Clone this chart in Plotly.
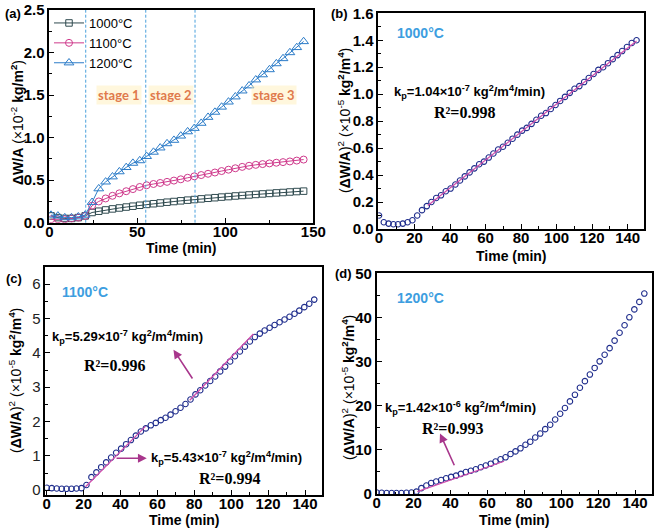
import plotly.graph_objects as go

W, H = 661, 532

# ---------------- data ----------------
# panel (a): mass gain per area (x10^-2 kg/m^2)
t_a = [1.0, 4.9, 8.8, 12.6, 16.5, 20.4, 24.3, 28.1, 32.0, 35.9, 39.8, 43.7, 47.5,
       51.4, 55.3, 59.2, 63.0, 66.9, 70.8, 74.7, 78.6, 82.4, 86.3, 90.2, 94.1,
       97.9, 101.8, 105.7, 109.6, 113.5, 117.3, 121.2, 125.1, 129.0, 132.8,
       136.7, 140.6, 144.5]
w_1000 = [0.08, 0.06, 0.05, 0.05, 0.06, 0.08, 0.12, 0.135, 0.15, 0.162, 0.173,
          0.184, 0.194, 0.205, 0.215, 0.223, 0.232, 0.241, 0.249, 0.257, 0.265,
          0.272, 0.28, 0.287, 0.294, 0.301, 0.307, 0.314, 0.32, 0.326, 0.332,
          0.338, 0.344, 0.35, 0.355, 0.361, 0.366, 0.371]
w_1100 = [0.04, 0.04, 0.04, 0.05, 0.06, 0.08, 0.20, 0.25, 0.285, 0.316, 0.345,
          0.37, 0.395, 0.42, 0.44, 0.455, 0.467, 0.48, 0.495, 0.51, 0.528,
          0.545, 0.56, 0.575, 0.59, 0.607, 0.623, 0.64, 0.656, 0.669, 0.68,
          0.689, 0.697, 0.705, 0.712, 0.72, 0.73, 0.742]
w_1200 = [0.09, 0.08, 0.06, 0.06, 0.07, 0.09, 0.24, 0.40, 0.48, 0.54, 0.60,
          0.65, 0.70, 0.73, 0.78, 0.83, 0.88, 0.93, 0.97, 1.02, 1.07, 1.11,
          1.17, 1.24, 1.30, 1.36, 1.42, 1.48, 1.55, 1.61, 1.68, 1.74, 1.80,
          1.87, 1.93, 2.00, 2.06, 2.13]
stage_bounds = [20.7, 54.8, 82.8]
stage_names = ["stage 1", "stage 2", "stage 3"]
stage_centers = [39.8, 69.0, 127.5]

# panels (b)-(d): squared mass gain (x10^-5 kg^2/m^4)
t_sq = [0, 2.7, 5.4, 8.1, 10.7, 13.4, 16.1, 18.8, 21.5, 24.2, 26.9, 29.5, 32.2,
        34.9, 37.6, 40.3, 43.0, 45.6, 48.3, 51.0, 53.7, 56.4, 59.1, 61.8, 64.4,
        67.1, 69.8, 72.5, 75.2, 77.9, 80.6, 83.2, 85.9, 88.6, 91.3, 94.0, 96.7,
        99.4, 102.0, 104.7, 107.4, 110.1, 112.8, 115.5, 118.1, 120.8, 123.5,
        126.2, 128.9, 131.6, 134.3, 136.9, 139.6, 142.3, 145.0]
sq_1000 = [0.10, 0.05, 0.04, 0.035, 0.035, 0.04, 0.05, 0.065, 0.10, 0.14, 0.17,
           0.20, 0.23, 0.25, 0.28, 0.30, 0.33, 0.36, 0.39, 0.42, 0.45, 0.48,
           0.50, 0.53, 0.56, 0.59, 0.61, 0.64, 0.67, 0.70, 0.73, 0.75, 0.78,
           0.81, 0.84, 0.86, 0.89, 0.92, 0.95, 0.98, 1.01, 1.04, 1.06, 1.09,
           1.12, 1.15, 1.18, 1.20, 1.23, 1.26, 1.29, 1.32, 1.35, 1.38, 1.40]
sq_1100 = [0.07, 0.06, 0.05, 0.04, 0.04, 0.04, 0.05, 0.06, 0.15, 0.38, 0.52,
           0.67, 0.81, 0.95, 1.09, 1.21, 1.34, 1.46, 1.59, 1.71, 1.80, 1.89,
           1.96, 2.04, 2.11, 2.20, 2.30, 2.40, 2.51, 2.64, 2.79, 2.91, 3.05,
           3.18, 3.31, 3.46, 3.60, 3.75, 3.90, 4.04, 4.18, 4.33, 4.46, 4.56,
           4.65, 4.73, 4.81, 4.89, 4.97, 5.05, 5.14, 5.23, 5.33, 5.43, 5.55]
sq_1200 = [0.2, 0.15, 0.1, 0.1, 0.1, 0.1, 0.15, 0.2, 0.4, 1.2, 1.8, 2.35, 2.7,
           3.05, 3.45, 3.75, 4.05, 4.45, 4.85, 5.15, 5.5, 5.95, 6.35, 6.75,
           7.25, 7.75, 8.2, 8.95, 9.55, 10.25, 11.05, 11.75, 12.7, 13.6, 14.6,
           15.6, 16.8, 18.1, 19.4, 20.9, 22.4, 24.0, 25.5, 27.0, 28.5, 30.0,
           31.5, 33.0, 34.7, 36.5, 38.2, 40.0, 41.8, 43.5, 45.4]

# linear-fit segments (start/end)
fit_b_x = [27.5, 145.0]
fit_b_y = [0.175, 1.395]
fit_c1_x = [21.0, 53.5]
fit_c1_y = [0.10, 1.86]
fit_c2_x = [77.5, 112.0]
fit_c2_y = [2.62, 4.55]
fit_d_x = [22.0, 69.0]
fit_d_y = [0.4, 7.3]

# tick labels
ticks_a_x = [0, 50, 100, 150]
ticks_a_y = [0.0, 0.5, 1.0, 1.5, 2.0, 2.5]
ticks_sq_x = [0, 20, 40, 60, 80, 100, 120, 140]
ticks_b_y = [0.0, 0.2, 0.4, 0.6, 0.8, 1.0, 1.2, 1.4, 1.6]
ticks_c_y = [0, 1, 2, 3, 4, 5, 6]
ticks_d_y = [0, 10, 20, 30, 40, 50]

# ---------------- styling ----------------
SANS = "Liberation Sans"
SERIF = "Liberation Serif"
NAVY = "#1f2d8c"
FITC = "#d04cab"
ARROWC = "#a8368c"
TEMPC = "#3d9ee0"
C1000, C1100, C1200 = "#2f4a4f", "#cf3a8c", "#2c7cc8"


def px(x, y):
    return x / W, 1 - y / H


fig = go.Figure()

# panel a
fig.add_trace(go.Scatter(x=t_a, y=w_1000, mode="lines+markers", name="1000°C",
                         line=dict(color=C1000, width=1),
                         marker=dict(symbol="square-open", size=6.5, color=C1000,
                                     line=dict(width=1)),
                         xaxis="x", yaxis="y"))
fig.add_trace(go.Scatter(x=t_a, y=w_1100, mode="lines+markers", name="1100°C",
                         line=dict(color=C1100, width=1),
                         marker=dict(symbol="circle-open", size=7, color=C1100,
                                     line=dict(width=1)),
                         xaxis="x", yaxis="y"))
fig.add_trace(go.Scatter(x=t_a, y=w_1200, mode="lines+markers", name="1200°C",
                         line=dict(color=C1200, width=1),
                         marker=dict(symbol="triangle-up-open", size=8.5, color=C1200,
                                     line=dict(width=1)),
                         xaxis="x", yaxis="y"))

# panels b, c, d
for ys, xa, ya in [(sq_1000, "x2", "y2"), (sq_1100, "x3", "y3"), (sq_1200, "x4", "y4")]:
    fig.add_trace(go.Scatter(x=t_sq, y=ys, mode="markers", showlegend=False,
                             marker=dict(symbol="circle-open", size=5.5, color=NAVY,
                                         line=dict(width=1.1)),
                             xaxis=xa, yaxis=ya))

for fx, fy, xa, ya in [(fit_b_x, fit_b_y, "x2", "y2"), (fit_c1_x, fit_c1_y, "x3", "y3"),
                       (fit_c2_x, fit_c2_y, "x3", "y3"), (fit_d_x, fit_d_y, "x4", "y4")]:
    fig.add_trace(go.Scatter(x=fx, y=fy, mode="lines", showlegend=False,
                             line=dict(color=FITC, width=1.2),
                             xaxis=xa, yaxis=ya))


def fmt_labels(vals, f, bold=True):
    out = []
    for v in vals:
        s = f.format(v)
        out.append("<b>" + s + "</b>" if bold else s)
    return out


def axis(dom, rng, tv, f, minor, bold=True, is_x=True):
    d = dict(domain=dom, range=rng, tickmode="array", tickvals=tv,
             ticktext=fmt_labels(tv, f, bold),
             ticks="inside", ticklen=5, tickwidth=1.3, tickcolor="black",
             minor=dict(dtick=minor, tick0=0, ticks="inside", ticklen=3,
                        tickwidth=1, tickcolor="black"),
             showline=True, linewidth=1.6, linecolor="black", mirror=True,
             showgrid=False, zeroline=False, automargin=False,
             tickfont=dict(family=SANS, size=15, color="black" if bold else "#222"))
    if is_x:
        d["ticklabelstandoff"] = -6
    return d


layout = dict(
    template="none",
    width=W, height=H, margin=dict(l=0, r=0, t=0, b=0, autoexpand=False),
    paper_bgcolor="white", plot_bgcolor="white", showlegend=True,
    xaxis=dict(**axis([49.3 / W, 313.3 / W], [0, 150], ticks_a_x, "{:d}", 25), anchor="y"),
    yaxis=dict(**axis([1 - 222.7 / H, 1 - 10 / H], [0, 2.5], ticks_a_y, "{:.1f}", 0.25, is_x=False), anchor="x"),
    xaxis2=dict(**axis([378.3 / W, 644 / W], [-0.4, 149.2], ticks_sq_x, "{:d}", 10), anchor="y2"),
    yaxis2=dict(**axis([1 - 229 / H, 1 - 13.3 / H], [0, 1.6], ticks_b_y, "{:.1f}", 0.1, is_x=False), anchor="x2"),
    xaxis3=dict(**axis([45.3 / W, 322 / W], [-0.8, 149.2], ticks_sq_x, "{:d}", 10), anchor="y3"),
    yaxis3=dict(**axis([1 - 495 / H, 1 - 267 / H], [-0.14, 6.5], ticks_c_y, "{:d}", 0.5, bold=False, is_x=False), anchor="x3"),
    xaxis4=dict(**axis([376.7 / W, 651.7 / W], [0, 149], ticks_sq_x, "{:d}", 10), anchor="y4"),
    yaxis4=dict(**axis([1 - 494.3 / H, 1 - 273.3 / H], [-0.2, 50], ticks_d_y, "{:d}", 5, is_x=False), anchor="x4"),
    legend=dict(x=49 / W, y=1 - 8 / H, xanchor="left", yanchor="top",
                bgcolor="rgba(0,0,0,0)", tracegroupgap=0, borderwidth=0,
                font=dict(family=SANS, size=13, color="black")),
)
fig.update_layout(**layout)

# stage dashed lines
for sb in stage_bounds:
    fig.add_shape(type="line", xref="x", yref="y domain", x0=sb, x1=sb, y0=0, y1=1,
                  line=dict(color="#4aa0dc", width=1, dash="3px,2px"))

anns = []
for name, cx in zip(stage_names, stage_centers):
    anns.append(dict(xref="x", yref="y", x=cx, y=1.50, text="<b>" + name + "</b>",
                     showarrow=False, bgcolor="rgba(255,238,180,0.45)",
                     font=dict(family="Lato", size=13, color="#e07a4c")))


def txt(x, y, s, size, family=SANS, color="black", xanchor="left", angle=0):
    xp, yp = px(x, y)
    return dict(xref="paper", yref="paper", x=xp, y=yp, text=s, showarrow=False,
                xanchor=xanchor, yanchor="middle", textangle=angle,
                font=dict(family=family, size=size, color=color))


# panel letters
anns += [txt(3, 13, "<b>(a)</b>", 13), txt(329, 14, "<b>(b)</b>", 13),
         txt(4, 278, "<b>(c)</b>", 13), txt(333, 273, "<b>(d)</b>", 13)]

# axis titles
time_t = "<b>Time (min)</b>"
anns += [txt(181, 248, time_t, 14, xanchor="center"),
         txt(511, 256, time_t, 14, xanchor="center"),
         txt(184, 520, time_t, 14, xanchor="center"),
         txt(514, 520, time_t, 14, xanchor="center")]
ya_t = "<b>ΔW/A</b> (×10<sup>-2</sup> <b>kg/m<sup>2</sup></b>)"
ysq_t = "(<b>ΔW/A</b>)<sup>2</sup> (×10<sup>-5</sup> <b>kg<sup>2</sup>/m<sup>4</sup></b>)"
anns += [txt(17, 123, ya_t, 14, xanchor="center", angle=-90),
         txt(344, 121, ysq_t, 14, xanchor="center", angle=-90),
         txt(15, 381, ysq_t, 14, xanchor="center", angle=-90),
         txt(348, 388, ysq_t, 14, xanchor="center", angle=-90)]

# temperature labels
anns += [txt(395, 33, "<b>1000°C</b>", 14, color=TEMPC),
         txt(60, 292, "<b>1100°C</b>", 14, color=TEMPC),
         txt(395, 298, "<b>1200°C</b>", 14, color=TEMPC)]

# kp and R2 labels
anns += [txt(392, 92, "<b>k<sub>p</sub>=1.04×10<sup>-7</sup> kg<sup>2</sup>/m<sup>4</sup>/min)</b>", 13),
         txt(432, 112, "<b>R²=0.998</b>", 16, family=SERIF),
         txt(50, 337, "<b>k<sub>p</sub>=5.29×10<sup>-7</sup> kg<sup>2</sup>/m<sup>4</sup>/min)</b>", 13),
         txt(82, 365, "<b>R²=0.996</b>", 16, family=SERIF),
         txt(149, 458, "<b>k<sub>p</sub>=5.43×10<sup>-7</sup> kg<sup>2</sup>/m<sup>4</sup>/min)</b>", 13),
         txt(197, 478, "<b>R²=0.994</b>", 16, family=SERIF),
         txt(383, 408, "<b>k<sub>p</sub>=1.42×10<sup>-6</sup> kg<sup>2</sup>/m<sup>4</sup>/min)</b>", 13),
         txt(420, 428, "<b>R²=0.993</b>", 16, family=SERIF)]

# arrows
for (hx, hy, tx, ty, xa, ya) in [(68.7, 4.09, 79.5, 3.21, "x3", "y3"),
                                  (54.2, 0.93, 37.0, 0.93, "x3", "y3"),
                                  (34.3, 13.6, 42.4, 6.06, "x4", "y4")]:
    anns.append(dict(xref=xa, yref=ya, x=hx, y=hy, ax=tx, ay=ty, axref=xa, ayref=ya,
                     text="", showarrow=True, arrowhead=2, arrowsize=1.1,
                     arrowwidth=1.6, arrowcolor=ARROWC, standoff=0, startstandoff=0))

fig.update_layout(annotations=anns)
fig.write_html("out.html", config={"displayModeBar": False},
               post_script="document.body.style.margin='0';")
